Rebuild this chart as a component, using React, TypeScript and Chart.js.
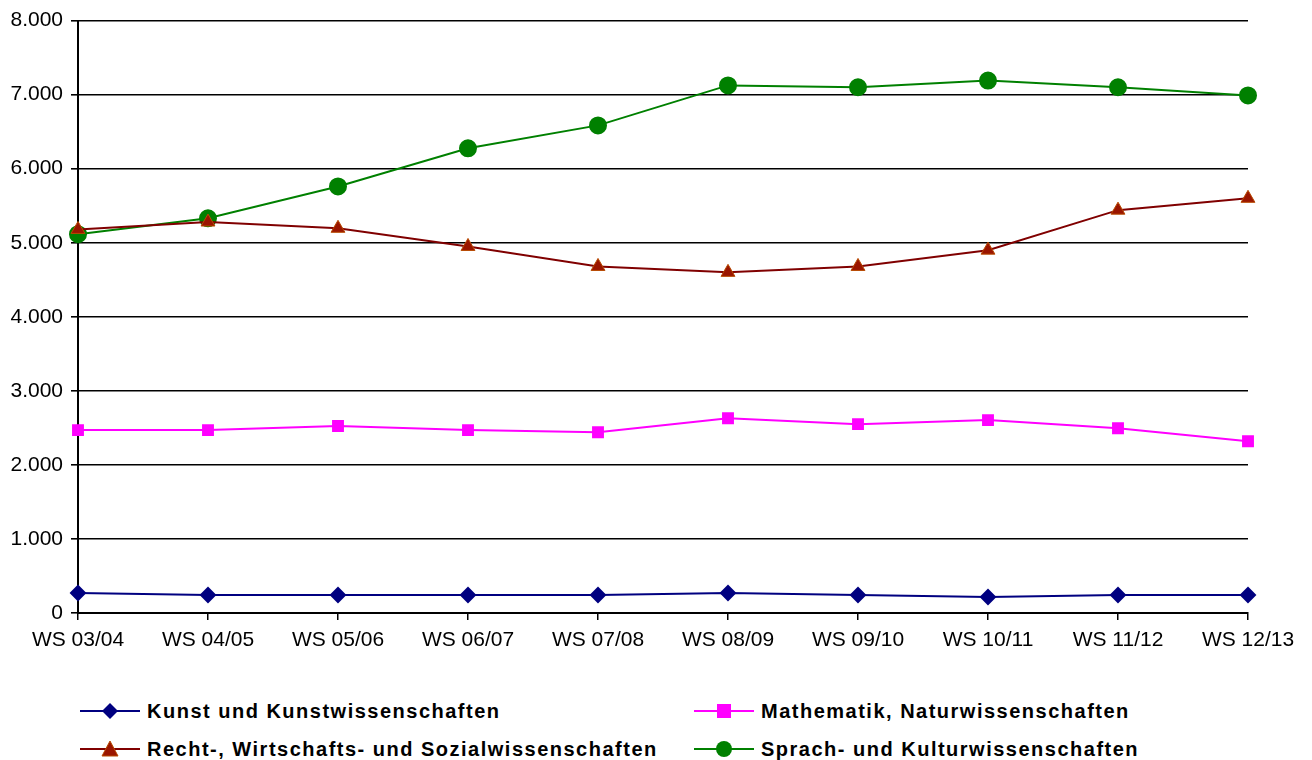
import React, { useEffect, useRef } from "react";
import { Chart, registerables } from "chart.js";

Chart.register(...registerables);

const categories = ["WS 03/04", "WS 04/05", "WS 05/06", "WS 06/07", "WS 07/08", "WS 08/09", "WS 09/10", "WS 10/11", "WS 11/12", "WS 12/13"];
const kunst = [270, 243, 243, 243, 243, 270, 243, 216, 243, 243];
const mathe = [2470, 2470, 2525, 2470, 2440, 2630, 2550, 2605, 2495, 2320];
const recht = [5180, 5280, 5195, 4950, 4680, 4600, 4680, 4900, 5440, 5600];
const sprach = [5115, 5330, 5760, 6275, 6585, 7125, 7100, 7190, 7100, 6990];
const yTicks = [0, 1000, 2000, 3000, 4000, 5000, 6000, 7000, 8000];

const seriesNames = [
  "Kunst und Kunstwissenschaften",
  "Mathematik, Naturwissenschaften",
  "Recht-, Wirtschafts- und Sozialwissenschaften",
  "Sprach- und Kulturwissenschaften",
];

const FONT = "'Liberation Sans', Arial, sans-serif";

function fmt(v: number) {
  return String(v).replace(/\B(?=(\d{3})+(?!\d))/g, ".");
}

function Marker({ kind, line, fill, stroke }: { kind: string; line: string; fill: string; stroke?: string }) {
  let shape: any = null;
  if (kind === "diamond") shape = <polygon points="30,2 38,10 30,18 22,10" fill={fill} />;
  if (kind === "square") shape = <rect x="23" y="3" width="14" height="14" fill={fill} />;
  if (kind === "triangle") shape = <polygon points="30,2 38,17 22,17" fill={fill} stroke={stroke} strokeWidth="1" />;
  if (kind === "circle") shape = <circle cx="30" cy="10" r="8" fill={fill} />;
  return (
    <svg width="60" height="20" style={{ display: "block" }}>
      <line x1="0" y1="10" x2="60" y2="10" stroke={line} strokeWidth="2" />
      {shape}
    </svg>
  );
}

export default function App() {
  const ref = useRef<HTMLCanvasElement | null>(null);

  useEffect(() => {
    if (!ref.current) return;
    const chart = new Chart(ref.current, {
      type: "line",
      data: {
        labels: categories,
        datasets: [
          {
            label: seriesNames[0],
            data: kunst,
            borderColor: "#000080",
            backgroundColor: "#000080",
            pointBackgroundColor: "#000080",
            pointBorderColor: "#000080",
            pointStyle: "rectRot",
            pointRadius: 7,
            borderWidth: 2,
            tension: 0,
          },
          {
            label: seriesNames[1],
            data: mathe,
            borderColor: "#FF00FF",
            backgroundColor: "#FF00FF",
            pointBackgroundColor: "#FF00FF",
            pointBorderColor: "#FF00FF",
            pointStyle: "rect",
            pointRadius: 7,
            borderWidth: 2,
            tension: 0,
          },
          {
            label: seriesNames[2],
            data: recht,
            borderColor: "#800000",
            backgroundColor: "#993300",
            pointBackgroundColor: "#9A1500",
            pointBorderColor: "#B84A00",
            pointBorderWidth: 1,
            pointStyle: "triangle",
            pointRadius: 8,
            borderWidth: 2,
            tension: 0,
          },
          {
            label: seriesNames[3],
            data: sprach,
            borderColor: "#008000",
            backgroundColor: "#008000",
            pointBackgroundColor: "#008000",
            pointBorderColor: "#008000",
            pointStyle: "circle",
            pointRadius: 8,
            borderWidth: 2,
            tension: 0,
          },
        ],
      },
      options: {
        responsive: false,
        animation: false,
        devicePixelRatio: 1,
        layout: { padding: { top: 20, right: 64, left: 0, bottom: 0 } },
        plugins: { legend: { display: false }, tooltip: { enabled: false } },
        scales: {
          x: {
            type: "category",
            offset: false,
            grid: { display: true, drawOnChartArea: false, drawTicks: true, tickLength: 7, color: "#000", lineWidth: 1.5 },
            border: { display: true, color: "#000", width: 2 },
            ticks: { color: "#000", font: { family: FONT, size: 21 }, padding: 8, maxRotation: 0, autoSkip: false },
            afterFit: (s: any) => { s.height = 67; },
          },
          y: {
            min: 0,
            max: 8000,
            afterBuildTicks: (s: any) => { s.ticks = yTicks.map((v) => ({ value: v })); },
            grid: { color: "#000", lineWidth: 1.6, tickLength: 7 },
            border: { display: true, color: "#000", width: 2 },
            ticks: { color: "#000", font: { family: FONT, size: 21 }, padding: 8, callback: (v: any) => fmt(Number(v)) },
            afterFit: (s: any) => { s.width = 78; },
          },
        },
      },
    } as any);
    return () => chart.destroy();
  }, []);

  const legendText: React.CSSProperties = {
    fontFamily: FONT,
    fontWeight: "bold",
    fontSize: 20,
    letterSpacing: "1.5px",
    color: "#000",
    whiteSpace: "nowrap",
    marginLeft: 7,
  };
  const item = (left: number, top: number, marker: any, text: string) => (
    <div style={{ position: "absolute", left, top, display: "flex", alignItems: "center", height: 20 }}>
      {marker}
      <span style={legendText}>{text}</span>
    </div>
  );

  return (
    <div style={{ position: "absolute", left: 0, top: 0, width: 1312, height: 760, background: "#fff", overflow: "hidden" }}>
      <canvas ref={ref} width={1312} height={680} style={{ display: "block", width: 1312, height: 680 }} />
      {item(80, 701, <Marker kind="diamond" line="#000080" fill="#000080" />, seriesNames[0])}
      {item(694, 701, <Marker kind="square" line="#FF00FF" fill="#FF00FF" />, seriesNames[1])}
      {item(80, 739, <Marker kind="triangle" line="#800000" fill="#9A1500" stroke="#B84A00" />, seriesNames[2])}
      {item(694, 739, <Marker kind="circle" line="#008000" fill="#008000" />, seriesNames[3])}
    </div>
  );
}
